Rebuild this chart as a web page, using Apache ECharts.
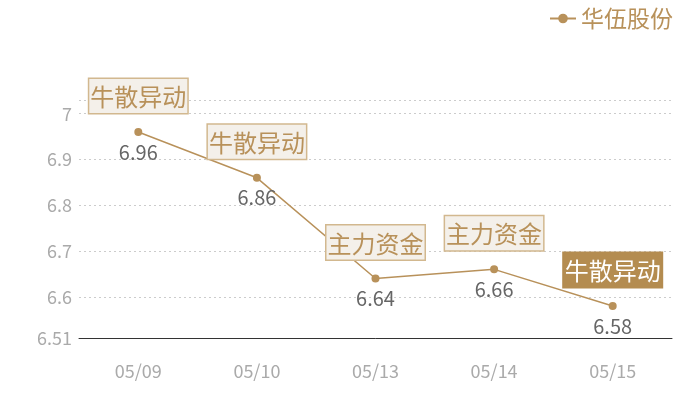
<!DOCTYPE html>
<html>
<head>
<meta charset="utf-8">
<script src="https://cdn.jsdelivr.net/npm/echarts@6/dist/echarts.min.js"></script>
<style>
  html, body { margin: 0; padding: 0; background: #fff; }
  #chart { width: 700px; height: 400px; }
</style>
</head>
<body>
<div id="chart"></div>
<script>
// 数据
var dates = ['05/09', '05/10', '05/13', '05/14', '05/15'];
var prices = [6.96, 6.86, 6.64, 6.66, 6.58];
var tags = ['牛散异动', '牛散异动', '主力资金', '主力资金', '牛散异动'];
var highlightIndex = 4;
var seriesName = '华伍股份';

var gold = '#b8915a';
var font = '"Noto Sans CJK SC", "Noto Sans", sans-serif';

var chart = echarts.init(document.getElementById('chart'), null, { renderer: 'canvas' });

// 标注
var markData = dates.map(function (d, i) {
    var hl = i === highlightIndex;
    return {
        coord: [d, prices[i]],
        value: tags[i],
        label: {
            color: hl ? '#fff' : gold,
            backgroundColor: hl ? '#b48c50' : '#f4f0ea',
            borderColor: hl ? '#b48c50' : '#d2b88f'
        }
    };
});

chart.setOption({
    animation: false,
    textStyle: { fontFamily: font },
    legend: {
        right: 22,
        top: 2,
        itemWidth: 26,
        itemHeight: 12,
        itemGap: 6,
        textStyle: { color: gold, fontSize: 23, fontFamily: font },
        data: [seriesName]
    },
    grid: { left: 79, right: 28, top: 100, bottom: 62 },
    xAxis: {
        type: 'category',
        data: dates,
        axisTick: { show: false },
        axisLine: { lineStyle: { color: '#333', width: 1 } },
        axisLabel: { color: '#aaa', fontSize: 18, margin: 24, fontFamily: font }
    },
    yAxis: {
        type: 'value',
        min: 6.51,
        max: 7.03,
        splitNumber: 5,
        axisLine: { show: false },
        axisTick: { show: false },
        axisLabel: { color: '#aaa', fontSize: 18, showMaxLabel: false, margin: 7, fontFamily: font },
        splitLine: { lineStyle: { color: '#ccc', type: [2, 3] } }
    },
    series: [{
        name: seriesName,
        type: 'line',
        data: prices,
        symbol: 'circle',
        symbolSize: 8,
        lineStyle: { color: gold, width: 1.5 },
        itemStyle: { color: gold },
        label: {
            show: true,
            position: 'bottom',
            distance: 6,
            color: '#666',
            fontSize: 20,
            fontFamily: font
        },
        markPoint: {
            symbol: 'circle',
            symbolSize: 0,
            label: {
                show: true,
                position: 'top',
                distance: 19,
                formatter: '{c}',
                fontSize: 24,
                fontFamily: font,
                borderWidth: 1.5,
                padding: [6, 1, 4, 1]
            },
            data: markData
        }
    }]
});
</script>
</body>
</html>
